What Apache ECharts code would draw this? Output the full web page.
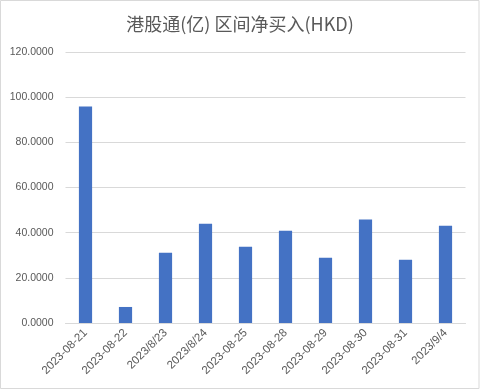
<!DOCTYPE html>
<html>
<head>
<meta charset="utf-8">
<script src="https://cdn.jsdelivr.net/npm/echarts@6/dist/echarts.min.js"></script>
<style>
html,body{margin:0;padding:0;background:#fff;}
#c{width:480px;height:390px;}
</style>
</head>
<body>
<div id="c"></div>
<script>
var titleText = '港股通(亿) 区间净买入(HKD)';
var categories = ['2023-08-21','2023-08-22','2023/8/23','2023/8/24','2023-08-25','2023-08-28','2023-08-29','2023-08-30','2023-08-31','2023/9/4'];
var values = [95.9, 7.1, 31.1, 44.0, 33.8, 40.9, 28.9, 45.8, 28.0, 43.1];
var yMin = 0, yMax = 120, yStep = 20;

var chart = echarts.init(document.getElementById('c'), null, {renderer:'canvas'});
chart.setOption({
  animation:false,
  backgroundColor:'#fff',
  title:{
    text:titleText,
    left:'center',
    top:10,
    textStyle:{fontFamily:'"Noto Sans CJK SC", sans-serif', fontSize:18, fontWeight:'normal', color:'#595959'}
  },
  grid:{left:65.5, right:14.5, top:52, bottom:67, containLabel:false},
  xAxis:{
    type:'category',
    data:categories,
    axisLine:{lineStyle:{color:'#d9d9d9', width:1}},
    axisTick:{show:false},
    axisLabel:{rotate:45, margin:8, color:'#595959', fontSize:11.5, fontFamily:'"Liberation Sans", sans-serif', interval:0}
  },
  yAxis:{
    type:'value',
    min:yMin, max:yMax, interval:yStep,
    axisLine:{show:false},
    axisTick:{show:false},
    splitLine:{lineStyle:{color:'#d9d9d9', width:1}},
    axisLabel:{margin:12, color:'#595959', fontSize:10.5, fontFamily:'"Liberation Sans", sans-serif',
      formatter:function(v){return v.toFixed(4);}}
  },
  series:[{
    type:'bar',
    data:values,
    barWidth:'33%',
    itemStyle:{color:'#4472c4'}
  }],
  graphic:[{
    type:'rect',
    shape:{x:0.5, y:0.5, width:478.5, height:388},
    style:{fill:'none', stroke:'#d9d9d9', lineWidth:1},
    silent:true
  }]
});
</script>
</body>
</html>
